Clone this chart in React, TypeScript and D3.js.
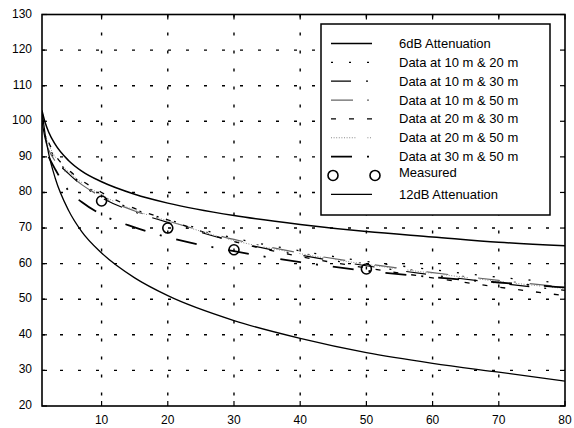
import React from 'react';
import * as d3 from 'd3';

// distance values (x) shared by every curve
const distances = [1, 1.5, 2, 3, 5, 7, 10, 15, 20, 30, 40, 50, 60, 70, 80];

const atten6dB = [103, 99.5, 97, 93.5, 89, 86, 83, 79.5, 77, 73.5, 71, 69, 67.5, 66, 65];
const data10and20 = [101, 96, 93, 89.8, 85.6, 82.6, 79.0, 75.2, 72.4, 67.2, 63.6, 60.6, 58.3, 56.2, 54.5];
const data10and30 = [100, 95, 92.5, 89.2, 85.3, 82.1, 78.5, 74.5, 71.6, 66.2, 62.4, 59.4, 56.8, 54.5, 52.5];
const data10and50 = [null, 94.5, 92, 88.8, 85.2, 82.2, 78.8, 74.8, 72.0, 66.8, 63.0, 60.0, 57.5, 55.3, 53.4];
const data20and30 = [null, null, 94, 90.5, 86.4, 83.4, 80.0, 75.5, 72.3, 66.2, 62.0, 58.8, 56.0, 53.4, 51.0];
const data20and50 = [null, 96, 93.5, 90, 85.8, 82.8, 79.3, 75.0, 72.0, 66.5, 62.8, 59.8, 57.3, 55.0, 53.0];
const data30and50 = [null, null, 90, 86.5, 80.5, 77.3, 73.8, 70.2, 67.4, 63.5, 60.4, 58.0, 56.2, 54.7, 53.3];
const atten12dB = [103, 96, 91, 84, 75, 69, 63, 56, 51, 44, 39, 35, 32, 29.5, 27];

const measuredX = [10, 20, 30, 50];
const measuredY = [77.6, 70.0, 63.9, 58.5];

const xTicks = [10, 20, 30, 40, 50, 60, 70, 80];
const yTicks = [20, 30, 40, 50, 60, 70, 80, 90, 100, 110, 120, 130];

const fineDots = Array(9).fill('1,1.6').join(',') + ',1,12';

const series = [
  { label: '6dB Attenuation', values: atten6dB, dash: null, color: '#000', width: 1.5 },
  { label: 'Data at 10 m & 20 m', values: data10and20, dash: '2,16', color: '#000', width: 1.3 },
  { label: 'Data at 10 m & 30 m', values: data10and30, dash: '20,15,2,15', color: '#000', width: 1.2 },
  { label: 'Data at 10 m & 50 m', values: data10and50, dash: '22,14,2,14', color: '#666', width: 1.2 },
  { label: 'Data at 20 m & 30 m', values: data20and30, dash: '5,13', color: '#000', width: 1.3 },
  { label: 'Data at 20 m & 50 m', values: data20and50, dash: fineDots, color: '#888', width: 1 },
  { label: 'Data at 30 m & 50 m', values: data30and50, dash: '21,15,2,15', color: '#000', width: 1.8 },
];

const W = 574;
const H = 428;
const left = 42;
const right = 565;
const top = 14.5;
const bottom = 406;

const App = () => {
  const x = d3.scaleLinear().domain([1, 80]).range([left, right]);
  const y = d3.scaleLinear().domain([20, 130]).range([bottom, top]);

  const line = d3
    .line<[number, number | null]>()
    .defined((d) => d[1] != null)
    .x((d) => x(d[0]))
    .y((d) => y(d[1] as number))
    .curve(d3.curveMonotoneX);

  const pts = (vals: (number | null)[]) =>
    distances.map((d, i) => [d, vals[i]] as [number, number | null]);

  // legend
  const lgX = 321;
  const lgY = 24;
  const lgW = 229;
  const lgH = 191;
  const rowY = (i: number) => 43.5 + i * 18.85;
  const sampleX0 = 331;
  const sampleX1 = 372;
  const textX = 399;

  const font = 'Liberation Sans, Arial, Helvetica, sans-serif';
  const gridDash = '3,15';

  return (
    <svg
      width={W}
      height={H}
      style={{ position: 'absolute', left: 0, top: 0, background: '#fff' }}
      fontFamily={font}
    >
      <rect x={0} y={0} width={W} height={H} fill="#fff" />

      {/* grid */}
      {xTicks.filter((t) => t < 80).map((t) => (
        <line key={'gx' + t} x1={x(t)} x2={x(t)} y1={top} y2={bottom}
          stroke="#000" strokeWidth={1.4} strokeDasharray={gridDash} />
      ))}
      {yTicks.filter((t) => t > 20 && t < 130).map((t) => (
        <line key={'gy' + t} x1={left} x2={right} y1={y(t)} y2={y(t)}
          stroke="#000" strokeWidth={1.4} strokeDasharray={gridDash} />
      ))}

      {/* curves */}
      <g clipPath="url(#plotClip)">
        <defs>
          <clipPath id="plotClip">
            <rect x={left} y={top} width={right - left} height={bottom - top} />
          </clipPath>
        </defs>
        {series.map((s) => (
          <path key={s.label} d={line(pts(s.values)) || ''} fill="none"
            stroke={s.color} strokeWidth={s.width}
            strokeDasharray={s.dash || undefined} />
        ))}
        <path d={line(pts(atten12dB)) || ''} fill="none" stroke="#000" strokeWidth={1.3} />
        {measuredX.map((mx, i) => (
          <circle key={'m' + mx} cx={x(mx)} cy={y(measuredY[i])} r={5}
            fill="none" stroke="#000" strokeWidth={1.6} />
        ))}
      </g>

      {/* ticks */}
      {xTicks.map((t) => (
        <g key={'tx' + t}>
          <line x1={x(t)} x2={x(t)} y1={bottom} y2={bottom - 5} stroke="#000" strokeWidth={1.2} />
          <line x1={x(t)} x2={x(t)} y1={top} y2={top + 5} stroke="#000" strokeWidth={1.2} />
          <text x={x(t)} y={424} fontSize={12} textAnchor="middle">{t}</text>
        </g>
      ))}
      {yTicks.map((t) => (
        <g key={'ty' + t}>
          <line x1={left} x2={left + 5} y1={y(t)} y2={y(t)} stroke="#000" strokeWidth={1.2} />
          <line x1={right} x2={right - 5} y1={y(t)} y2={y(t)} stroke="#000" strokeWidth={1.2} />
          <text x={32} y={y(t) + 3} fontSize={12} textAnchor="end">{t}</text>
        </g>
      ))}

      {/* axes box */}
      <rect x={left} y={top} width={right - left} height={bottom - top}
        fill="none" stroke="#000" strokeWidth={1.6} />

      {/* legend */}
      <rect x={lgX} y={lgY} width={lgW} height={lgH} fill="#fff" stroke="#000" strokeWidth={1.5} />
      {series.map((s, i) => (
        <g key={'lg' + s.label}>
          <line x1={sampleX0} x2={sampleX1} y1={rowY(i)} y2={rowY(i)}
            stroke={s.color} strokeWidth={s.width} strokeDasharray={s.dash || undefined} />
          <text x={textX} y={rowY(i) + 4.5} fontSize={13}>{s.label}</text>
        </g>
      ))}
      <circle cx={333} cy={rowY(7)} r={5} fill="none" stroke="#000" strokeWidth={1.6} />
      <circle cx={375} cy={rowY(7)} r={5} fill="none" stroke="#000" strokeWidth={1.6} />
      <text x={textX} y={rowY(7) + 2} fontSize={13}>Measured</text>
      <line x1={sampleX0} x2={sampleX1} y1={rowY(8)} y2={rowY(8)} stroke="#000" strokeWidth={1.3} />
      <text x={textX} y={rowY(8) + 4.5} fontSize={13}>12dB Attenuation</text>
    </svg>
  );
};

export default App;
